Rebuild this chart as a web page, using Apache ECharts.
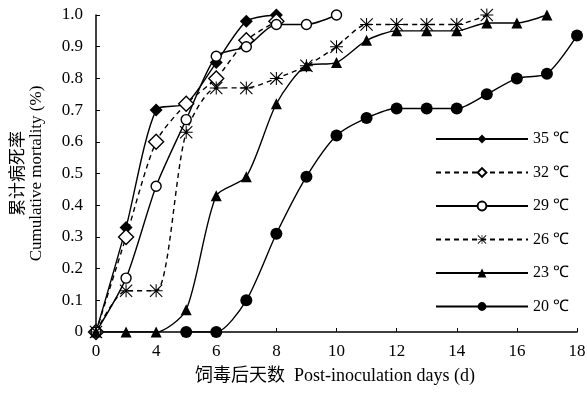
<!DOCTYPE html>
<html>
<head>
<meta charset="utf-8">
<script src="https://cdn.jsdelivr.net/npm/echarts@6/dist/echarts.min.js"></script>
<style>
  html, body { margin: 0; padding: 0; background: #fff; }
  #chart { width: 587px; height: 396px; }
</style>
</head>
<body>
<div id="chart"></div>
<script>
// days after inoculation (category axis, every other one labelled)
const days = ['0', '2', '4', '5', '6', '7', '8', '9', '10', '11', '12', '13', '14', '15', '16', '17', '18'];
const yTicks = [0, 0.1, 0.2, 0.3, 0.4, 0.5, 0.6, 0.7, 0.8, 0.9, 1.0];

const t35 = [0, 0.33, 0.70, 0.72, 0.85, 0.98, 1.00];
const t32 = [0, 0.30, 0.60, 0.72, 0.80, 0.92, 0.98];
const t29 = [0, 0.17, 0.46, 0.67, 0.87, 0.90, 0.97, 0.97, 1.00];
const t26 = [0, 0.13, 0.13, 0.63, 0.77, 0.77, 0.80, 0.84, 0.90, 0.97, 0.97, 0.97, 0.97, 1.00];
const t23 = [0, 0, 0, 0.07, 0.43, 0.49, 0.72, 0.84, 0.85, 0.92, 0.95, 0.95, 0.95, 0.975, 0.975, 1.00];
const t20 = ['-', '-', '-', 0, 0, 0.10, 0.31, 0.49, 0.62, 0.675, 0.705, 0.705, 0.705, 0.75, 0.80, 0.815, 0.935];

const seriesNames = ['35 ℃', '32 ℃', '29 ℃', '26 ℃', '23 ℃', '20 ℃'];

const star = 'path://M0 9.2L20 9.2L20 10.8L0 10.8Z M9.2 0L10.8 0L10.8 20L9.2 20Z M1.2 0L20 18.8L18.8 20L0 1.2Z M18.8 0L20 1.2L1.2 20L0 18.8Z';

const chart = echarts.init(document.getElementById('chart'));

function mk(name, data, symbol, size, dashed, hollow) {
    return {
        name: name,
        type: 'line',
        data: data,
        symbol: symbol,
        symbolSize: size,
        smooth: 0.25,
        showAllSymbol: true,
        lineStyle: { color: '#000', width: 1.4, type: dashed ? [5, 4] : 'solid' },
        itemStyle: {
            color: hollow ? '#fff' : '#000',
            borderColor: '#000',
            borderWidth: hollow ? 1.4 : 0
        },
        emphasis: { disabled: true },
        animation: false
    };
}

const option = {
    backgroundColor: '#fff',
    animation: false,
    grid: { left: 96, right: 10, top: 15, bottom: 64, outerBoundsMode: 'none' },
    legend: {
        orient: 'vertical',
        left: 430,
        top: 125,
        itemWidth: 92,
        itemHeight: 11,
        itemGap: 15.5,
        textStyle: { fontFamily: 'Liberation Serif', fontSize: 16, color: '#000', lineHeight: 18 },
        data: seriesNames
    },
    xAxis: {
        type: 'category',
        data: days,
        boundaryGap: false,
        axisLine: { lineStyle: { color: '#000', width: 1.5 } },
        axisTick: { inside: true, interval: 1, length: 4, lineStyle: { color: '#000' } },
        axisLabel: {
            interval: 1,
            margin: 11,
            fontFamily: 'Liberation Serif',
            fontSize: 17,
            color: '#000'
        },
        splitLine: { show: false }
    },
    yAxis: {
        type: 'value',
        min: yTicks[0],
        max: yTicks[yTicks.length - 1],
        interval: 0.1,
        name: '累计病死率\nCumulative mortality (%)',
        nameLocation: 'middle',
        nameRotate: 90,
        nameGap: 50,
        nameTextStyle: {
            fontFamily: 'Liberation Serif, Noto Sans CJK SC',
            fontSize: 17,
            lineHeight: 18,
            color: '#000'
        },
        axisLine: { show: true, lineStyle: { color: '#000', width: 1.5 } },
        axisTick: { show: true, inside: true, length: 4, lineStyle: { color: '#000' } },
        axisLabel: {
            margin: 13,
            fontFamily: 'Liberation Serif',
            fontSize: 17,
            color: '#000',
            formatter: v => (v === 0 ? '0' : v.toFixed(1))
        },
        splitLine: { show: false }
    },
    graphic: [{
        type: 'text',
        left: 195,
        top: 367,
        style: {
            text: '饲毒后天数  Post-inoculation days (d)',
            font: '18px "Liberation Serif", "Noto Sans CJK SC"',
            fill: '#000'
        }
    }],
    series: [
        mk(seriesNames[0], t35, 'diamond', 13, false, false),
        mk(seriesNames[1], t32, 'diamond', 15, true, true),
        mk(seriesNames[2], t29, 'circle', 10, false, true),
        mk(seriesNames[3], t26, star, 13, true, false),
        mk(seriesNames[4], t23, 'triangle', 11, false, false),
        mk(seriesNames[5], t20, 'circle', 12, false, false)
    ]
};

chart.setOption(option);
</script>
</body>
</html>
